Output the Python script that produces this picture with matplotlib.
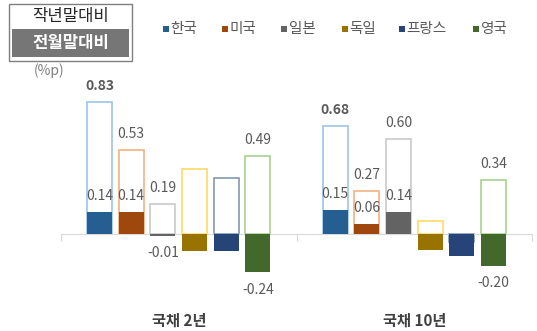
import numpy as np
import matplotlib.pyplot as plt
from matplotlib.patches import Rectangle
from matplotlib.transforms import blended_transform_factory

plt.rcParams['font.family'] = ['Noto Sans CJK KR', 'DejaVu Sans']

groups = ['국채 2년', '국채 10년']
countries = ['한국', '미국', '일본', '독일', '프랑스', '영국']
fill_colors = ['#255E91', '#9E480E', '#636363', '#997300', '#264478', '#43682B']
edge_colors = ['#9DC3E6', '#F4B183', '#C9C9C9', '#FFD966', '#8497B0', '#A9D18E']

# 작년말대비 (hollow) and 전월말대비 (filled), rows = countries, cols = groups
ytd = np.array([[0.83, 0.68], [0.53, 0.27], [0.19, 0.60],
                [0.41, 0.08], [0.35, -0.05], [0.49, 0.34]])
mom = np.array([[0.14, 0.15], [0.14, 0.06], [-0.01, 0.14],
                [-0.11, -0.10], [-0.11, -0.14], [-0.24, -0.20]])
# which labels are shown
ytd_show = [[True, True], [True, True], [True, True],
            [False, False], [False, False], [True, True]]
mom_show = [[True, True], [True, True], [True, True],
            [False, False], [False, False], [True, True]]

W, H = 537, 331
fig = plt.figure(figsize=(W / 100, H / 100), dpi=100)
ax = fig.add_axes([61 / W, 17.5 / H, (532 - 61) / W, 238.5 / H])

pitch = 0.1345
width = 0.106
x = np.arange(len(groups))
lab_col = '#595959'
for k, c in enumerate(countries):
    xs = x + (k - 2.5) * pitch
    ax.bar(xs, ytd[k], width, facecolor='white', edgecolor=edge_colors[k],
           linewidth=1.2, zorder=2)
    ax.bar(xs, mom[k], width, color=fill_colors[k], zorder=3)
    for g in range(len(groups)):
        bold = 'bold' if k == 0 else 'normal'
        if ytd_show[k][g]:
            v = ytd[k][g]
            ax.annotate(f'{v:.2f}', (xs[g], v), xytext=(0, 11.5 if v >= 0 else -11.5),
                        textcoords='offset points', ha='center', va='center',
                        fontsize=10, color=lab_col, fontweight=bold, zorder=5)
        if mom_show[k][g]:
            v = mom[k][g]
            ax.annotate(f'{v:.2f}', (xs[g], v), xytext=(0, 11.5 if v >= 0 else -12.5),
                        textcoords='offset points', ha='center', va='center',
                        fontsize=10, color=lab_col, zorder=5)

ax.set_xlim(-0.5, 1.5)
ax.set_ylim(-0.5, 1.0)
for s in ['top', 'right', 'left']:
    ax.spines[s].set_visible(False)
ax.spines['bottom'].set_position(('data', 0))
ax.spines['bottom'].set_color('#D9D9D9')
ax.set_xticks([-0.5, 0.5, 1.5])
ax.set_xticklabels([])
ax.tick_params(axis='x', length=5, color='#D9D9D9', direction='out')
ax.set_yticks([])
ax.patch.set_visible(False)

trans = blended_transform_factory(ax.transData, fig.transFigure)
for g, name in enumerate(groups):
    ax.text(x[g], 1 - 321 / H, name, transform=trans, ha='center', va='center',
            fontsize=11, fontweight='bold', color='#404040')

# series legend box
fig.patches.append(Rectangle((9 / W, 1 - 61 / H), 123 / W, 57 / H, transform=fig.transFigure,
                             facecolor='white', edgecolor='#7F7F7F', linewidth=1))
fig.patches.append(Rectangle((12 / W, 1 - 57 / H), 117 / W, 28 / H, transform=fig.transFigure,
                             facecolor='#767676', edgecolor='none'))
fig.text(71 / W, 1 - 17 / H, '작년말대비', ha='center', va='center', fontsize=12, color='#262626')
fig.text(71 / W, 1 - 43 / H, '전월말대비', ha='center', va='center', fontsize=12,
         color='white', fontweight='bold')
fig.text(49 / W, 1 - 71 / H, '(%p)', ha='center', va='center', fontsize=10, color='#7F7F7F')

# country legend
leg_x = [163, 222, 281, 341.5, 399, 472.5]
for k, c in enumerate(countries):
    fig.patches.append(Rectangle((leg_x[k] / W, 1 - 32 / H), 6 / W, 6 / H,
                                 transform=fig.transFigure, facecolor=fill_colors[k],
                                 edgecolor='none'))
    fig.text((leg_x[k] + 7.5) / W, 1 - 28.5 / H, c, ha='left', va='center',
             fontsize=10.5, color=lab_col)

fig.savefig('out.png', dpi=100)
